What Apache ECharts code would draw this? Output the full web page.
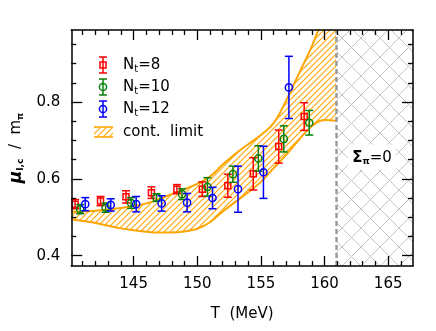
<!DOCTYPE html>
<html>
<head>
<meta charset="utf-8">
<script src="https://cdn.jsdelivr.net/npm/echarts@6/dist/echarts.min.js"></script>
<style>
  html, body { margin: 0; padding: 0; background: #fff; }
  #chart { width: 436px; height: 331px; }
</style>
</head>
<body>
<div id="chart"></div>
<script>
// lattice data
const tRed = [140.4, 142.4, 144.4, 146.4, 148.4, 150.4, 152.4, 154.4, 156.4, 158.4];
const muRed = [0.534, 0.542, 0.553, 0.564, 0.573, 0.573, 0.582, 0.613, 0.684, 0.762];
const errRed = [0.012, 0.012, 0.016, 0.015, 0.012, 0.019, 0.030, 0.042, 0.043, 0.036];

const tGreen = [140.8, 142.8, 144.8, 146.8, 148.8, 150.8, 152.8, 154.8, 156.8, 158.8];
const muGreen = [0.521, 0.525, 0.537, 0.551, 0.560, 0.579, 0.612, 0.653, 0.704, 0.746];
const errGreen = [0.012, 0.012, 0.014, 0.010, 0.014, 0.024, 0.021, 0.033, 0.034, 0.032];

const tBlue = [141.2, 143.2, 145.2, 147.2, 149.2, 151.2, 153.2, 155.2, 157.2];
const muBlue = [0.534, 0.532, 0.534, 0.536, 0.538, 0.550, 0.573, 0.617, 0.838];
const errBlue = [0.017, 0.016, 0.020, 0.020, 0.024, 0.028, 0.060, 0.068, 0.081];

// continuum limit band
const bandT = [140.1, 141, 142, 143, 144, 145, 146, 147, 148, 149, 150, 151, 152, 153, 154, 155, 156, 157, 158, 159, 160, 160.9];
const bandLo = [0.495, 0.490, 0.485, 0.478, 0.471, 0.466, 0.462, 0.460, 0.460, 0.463, 0.470, 0.487, 0.515, 0.540, 0.565, 0.592, 0.628, 0.663, 0.702, 0.737, 0.753, 0.751];
const bandHi = [0.514, 0.515, 0.517, 0.520, 0.524, 0.529, 0.536, 0.547, 0.560, 0.573, 0.587, 0.606, 0.637, 0.665, 0.690, 0.714, 0.745, 0.805, 0.875, 0.945, 1.030, 1.100];

const sigmaEdge = 160.9;

const xMajor = [145, 150, 155, 160, 165];
const xMinor = [141, 142, 143, 144, 146, 147, 148, 149, 151, 152, 153, 154, 156, 157, 158, 159, 161, 162, 163, 164, 166];
const yMajor = [0.4, 0.6, 0.8];
const yMinor = [0.45, 0.5, 0.55, 0.65, 0.7, 0.75, 0.85, 0.9, 0.95];

const XMIN = 140.1, XMAX = 166.95, YMIN = 0.373, YMAX = 0.9875;
const FONT = 'DejaVu Sans';
const RED = '#ff0000', GREEN = '#0a800a', BLUE = '#0000ff', ORANGE = '#ffa500';

// tiles for the hatched fills: '/' lines, optionally crossed
function hatch(size, color, cross, width) {
  const c = document.createElement('canvas');
  c.width = size; c.height = size;
  const g = c.getContext('2d');
  g.fillStyle = 'rgba(255,255,255,0)';
  g.clearRect(0, 0, size, size);
  g.strokeStyle = color;
  g.lineWidth = width;
  g.lineCap = 'square';
  for (let k = -1; k <= 1; k++) {
    g.beginPath();
    g.moveTo(k * size, size);
    g.lineTo(k * size + size, 0);
    g.stroke();
    if (cross) {
      g.beginPath();
      g.moveTo(k * size, 0);
      g.lineTo(k * size + size, size);
      g.stroke();
    }
  }
  return c;
}
const orangeTile = hatch(6, ORANGE, false, 1.1);
const greyTile = hatch(19, '#c4c4c4', true, 1);
const orangeHatch = { image: orangeTile, repeat: 'repeat' };
const greyHatch = { image: greyTile, repeat: 'repeat' };

function errorBar(shape) {
  return function (params, api) {
    const t = api.value(0), v = api.value(1), e = api.value(2);
    const c = api.coord([t, v]);
    const top = api.coord([t, v + e]);
    const bot = api.coord([t, v - e]);
    const col = api.visual('color');
    const st = { stroke: col, lineWidth: 1.5, fill: 'none' };
    const marker = shape === 'square'
      ? { type: 'rect', shape: { x: c[0] - 3, y: c[1] - 3, width: 6, height: 6 }, style: st }
      : { type: 'circle', shape: { cx: c[0], cy: c[1], r: 3.6 }, style: st };
    return {
      type: 'group',
      children: [
        { type: 'line', shape: { x1: c[0], y1: top[1], x2: c[0], y2: bot[1] }, style: st },
        { type: 'line', shape: { x1: c[0] - 4, y1: top[1], x2: c[0] + 4, y2: top[1] }, style: st },
        { type: 'line', shape: { x1: c[0] - 4, y1: bot[1], x2: c[0] + 4, y2: bot[1] }, style: st },
        marker
      ]
    };
  };
}

function legendIcon(cx, cy, shape, col) {
  const st = { stroke: col, lineWidth: 1.5, fill: 'none' };
  return [
    { type: 'line', shape: { x1: cx, y1: cy - 8, x2: cx, y2: cy + 8 }, style: st },
    { type: 'line', shape: { x1: cx - 4, y1: cy - 8, x2: cx + 4, y2: cy - 8 }, style: st },
    { type: 'line', shape: { x1: cx - 4, y1: cy + 8, x2: cx + 4, y2: cy + 8 }, style: st },
    shape === 'square'
      ? { type: 'rect', shape: { x: cx - 3, y: cy - 3, width: 6, height: 6 }, style: st }
      : { type: 'circle', shape: { cx: cx, cy: cy, r: 3.6 }, style: st }
  ];
}
function legendText(x, y, nt) {
  return {
    type: 'text', x: x, y: y,
    style: {
      text: '{a|N}{s|t}{a|=' + nt + '}',
      verticalAlign: 'middle',
      rich: {
        a: { fontFamily: FONT, fontSize: 15, fill: '#000' },
        s: { fontFamily: FONT, fontSize: 10, fill: '#000', padding: [8, 0, 0, 0] }
      }
    }
  };
}

const rows = [65, 87, 109, 132];
const graphic = [].concat(
  legendIcon(103, rows[0], 'square', RED), [legendText(123, rows[0], '8')],
  legendIcon(103, rows[1], 'circle', GREEN), [legendText(123, rows[1], '10')],
  legendIcon(103, rows[2], 'circle', BLUE), [legendText(123, rows[2], '12')],
  [
    { type: 'rect', shape: { x: 94, y: rows[3] - 5, width: 19, height: 10 }, style: { fill: orangeHatch, stroke: null } },
    { type: 'line', shape: { x1: 94, y1: rows[3] - 5, x2: 113, y2: rows[3] - 5 }, style: { stroke: ORANGE, lineWidth: 1.5 } },
    { type: 'line', shape: { x1: 94, y1: rows[3] + 5, x2: 113, y2: rows[3] + 5 }, style: { stroke: ORANGE, lineWidth: 1.5 } },
    { type: 'text', x: 123, y: rows[3], style: { text: 'cont.  limit', fontFamily: FONT, fontSize: 15, fill: '#000', verticalAlign: 'middle' } },
    {
      type: 'text', x: 372, y: 157, z: 10,
      style: {
        text: '{a|Σ}{s|π}{b|=0}',
        align: 'center', verticalAlign: 'middle',
        backgroundColor: '#fff', padding: [5, 4, 3, 4],
        rich: {
          a: { fontFamily: FONT, fontSize: 15, fontWeight: 'bold', fill: '#000' },
          s: { fontFamily: FONT, fontSize: 9, fontWeight: 'bold', fill: '#000', padding: [8, 0, 0, 0] },
          b: { fontFamily: FONT, fontSize: 15, fill: '#000' }
        }
      }
    }
  ]
);

function xAx(pos, ticks, len, labels, line) {
  return {
    type: 'value', min: XMIN, max: XMAX, position: pos, z: 10,
    axisLine: { show: line, onZero: false, lineStyle: { color: '#000', width: 1.5 } },
    axisTick: { show: true, inside: true, length: len, customValues: ticks, lineStyle: { color: '#000', width: 1.3 } },
    axisLabel: labels ? { customValues: ticks, fontFamily: FONT, fontSize: 15, color: '#000', margin: 11 } : { show: false },
    splitLine: { show: false }
  };
}
function yAx(pos, ticks, len, labels, line) {
  return {
    type: 'value', min: YMIN, max: YMAX, position: pos, z: 10,
    axisLine: { show: line, onZero: false, lineStyle: { color: '#000', width: 1.5 } },
    axisTick: { show: true, inside: true, length: len, customValues: ticks, lineStyle: { color: '#000', width: 1.3 } },
    axisLabel: labels ? { customValues: ticks, fontFamily: FONT, fontSize: 15, color: '#000', margin: 11, formatter: v => v.toFixed(1) } : { show: false },
    splitLine: { show: false }
  };
}

const xAxes = [xAx('bottom', xMajor, 10, true, true), xAx('bottom', xMinor, 5, false, false), xAx('top', xMajor, 10, false, true), xAx('top', xMinor, 5, false, false)];
Object.assign(xAxes[0], {
  name: 'T  (MeV)', nameLocation: 'middle', nameGap: 41,
  nameTextStyle: { fontFamily: FONT, fontSize: 15, color: '#000' }
});
const yAxes = [yAx('left', yMajor, 11, true, true), yAx('left', yMinor, 5, false, false), yAx('right', yMajor, 11, false, true), yAx('right', yMinor, 5, false, false)];
Object.assign(yAxes[0], {
  name: '{mu|μ}{sub|I,c}{t|  /  m}{sub|π}', nameLocation: 'middle', nameRotate: 90, nameGap: 36,
  nameTextStyle: {
    fontFamily: FONT, fontSize: 15, color: '#000',
    rich: {
      mu: { fontFamily: FONT, fontSize: 17, fontStyle: 'italic', fontWeight: 'bold', color: '#000' },
      sub: { fontFamily: FONT, fontSize: 9, fontWeight: 'bold', color: '#000', padding: [9, 0, 0, 0] },
      t: { fontFamily: FONT, fontSize: 15, color: '#000' }
    }
  }
});

const chart = echarts.init(document.getElementById('chart'), null, { renderer: 'canvas' });
chart.setOption({
  animation: false,
  backgroundColor: '#fff',
  grid: { left: 67, right: 23, top: 30, bottom: 65, show: false },
  xAxis: xAxes,
  yAxis: yAxes,
  graphic: graphic,
  series: [
    {
      // upper edge, hatched down to the axis
      name: 'cont. limit', type: 'line', smooth: 0.4, symbol: 'none',
      data: bandT.map((t, i) => [t, bandHi[i]]),
      itemStyle: { color: ORANGE },
      lineStyle: { color: ORANGE, width: 2 },
      areaStyle: { color: orangeHatch, opacity: 1, origin: 'start' },
      z: 1,
      markArea: {
        silent: true,
        itemStyle: { color: greyHatch, opacity: 1 },
        data: [[{ xAxis: sigmaEdge }, { xAxis: XMAX }]]
      },
      markLine: {
        silent: true, symbol: 'none',
        label: { show: false },
        lineStyle: { color: '#9a9a9a', type: [5, 3], width: 2.5 },
        data: [{ xAxis: sigmaEdge }]
      }
    },
    {
      // lower edge, white below it
      name: 'lower', type: 'line', smooth: 0.4, symbol: 'none',
      data: bandT.map((t, i) => [t, bandLo[i]]),
      itemStyle: { color: ORANGE },
      lineStyle: { color: ORANGE, width: 2 },
      areaStyle: { color: '#fff', opacity: 1, origin: 'start' },
      z: 2
    },
    {
      name: 'Nt=8', type: 'custom', renderItem: errorBar('square'),
      itemStyle: { color: RED }, encode: { x: 0, y: 1 }, z: 5,
      data: tRed.map((t, i) => [t, muRed[i], errRed[i]])
    },
    {
      name: 'Nt=10', type: 'custom', renderItem: errorBar('circle'),
      itemStyle: { color: GREEN }, encode: { x: 0, y: 1 }, z: 5,
      data: tGreen.map((t, i) => [t, muGreen[i], errGreen[i]])
    },
    {
      name: 'Nt=12', type: 'custom', renderItem: errorBar('circle'),
      itemStyle: { color: BLUE }, encode: { x: 0, y: 1 }, z: 5,
      data: tBlue.map((t, i) => [t, muBlue[i], errBlue[i]])
    }
  ]
});
</script>
</body>
</html>
